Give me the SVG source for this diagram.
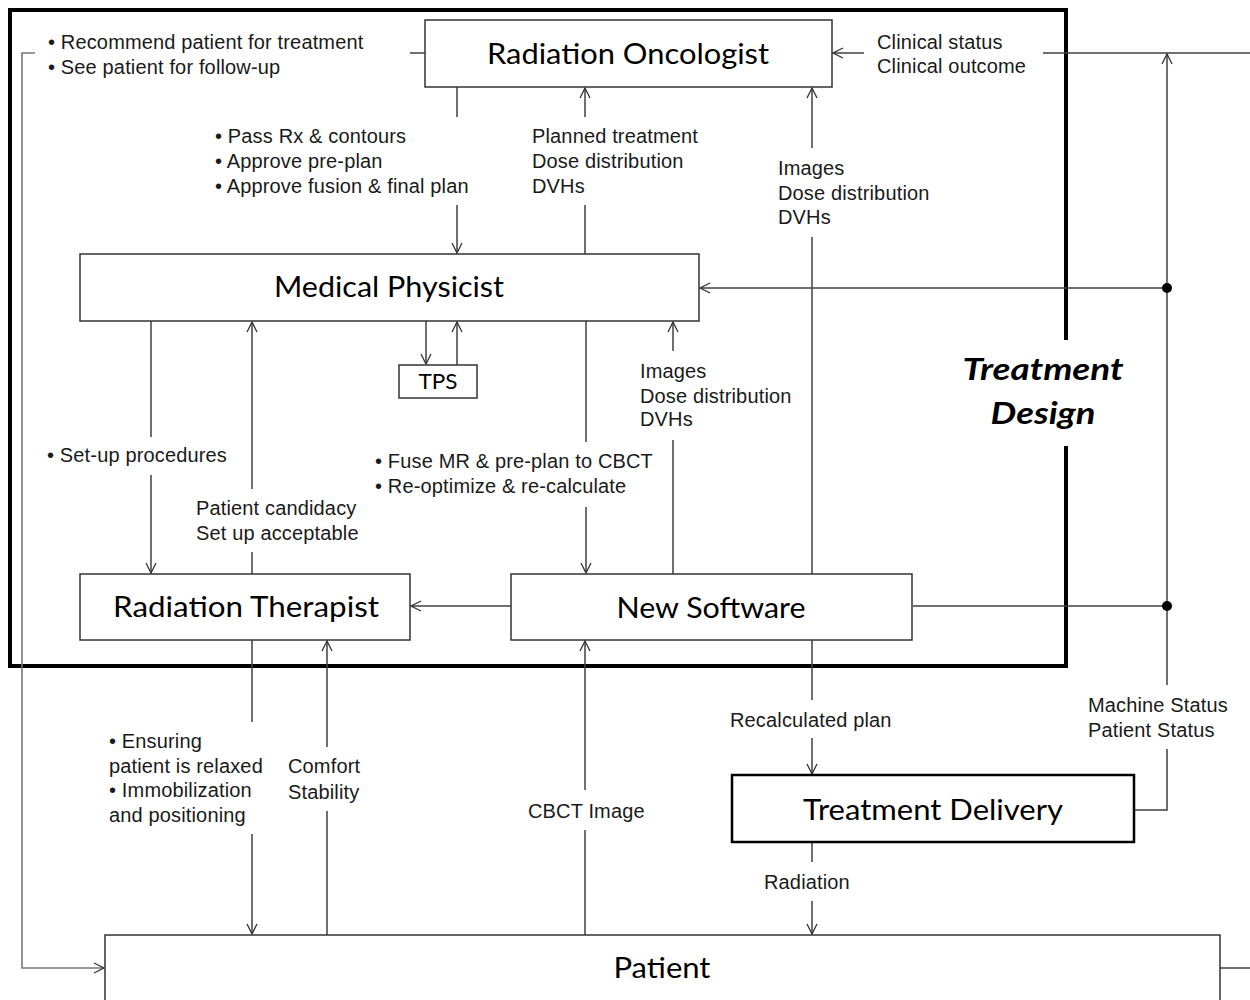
<svg xmlns="http://www.w3.org/2000/svg" width="1250" height="1000" viewBox="0 0 1250 1000">
<defs>
<marker id="arr" viewBox="0 0 12 12" refX="11" refY="6" markerWidth="12" markerHeight="12" orient="auto" markerUnits="userSpaceOnUse">
<path d="M1,1 L11,6 L1,11" fill="none" stroke="#333" stroke-width="1.3"/>
</marker>
<style>
.box{fill:#fff;stroke:#333;stroke-width:1.5}
.title{font-family:Lato,"Open Sans",sans-serif;font-size:28px;fill:#000;text-anchor:middle}
.lbl{font-family:"Liberation Sans",Arial,sans-serif;font-size:20px;letter-spacing:0.15px;fill:#1a1a1a}
.ln{fill:none;stroke:#404040;stroke-width:1.5}
.ar{marker-end:url(#arr)}
</style>
</defs>
<rect width="1250" height="1000" fill="#fff"/>

<g id="frame">
<rect x="10" y="10" width="1056" height="656" fill="none" stroke="#000" stroke-width="4"/>
</g>

<g id="connectors">
<line class="ln" x1="410" y1="53" x2="425" y2="53"/>
<path d="M35,53 H22 V968 H104" fill="none" stroke="#777" stroke-width="1.6" marker-end="url(#arr)"/>
<line class="ln ar" x1="864" y1="53" x2="833" y2="53"/>
<line class="ln" x1="1043" y1="53" x2="1250" y2="53"/>
<line class="ln" x1="1220" y1="968" x2="1250" y2="968"/>
<line class="ln ar" x1="1167" y1="685" x2="1167" y2="54"/>
<polyline class="ln" points="1134,810 1167,810 1167,749"/>
<line class="ln ar" x1="1167" y1="288" x2="700" y2="288"/>
<line class="ln" x1="913" y1="606" x2="1167" y2="606"/>
<circle cx="1167" cy="288" r="5" fill="#000"/>
<circle cx="1167" cy="606" r="5" fill="#000"/>
<line class="ln" x1="457" y1="87" x2="457" y2="117"/>
<line class="ln ar" x1="457" y1="205" x2="457" y2="253"/>
<line class="ln" x1="585" y1="254" x2="585" y2="205"/>
<line class="ln ar" x1="585" y1="117" x2="585" y2="88"/>
<line class="ln" x1="812" y1="574" x2="812" y2="237"/>
<line class="ln ar" x1="812" y1="148" x2="812" y2="88"/>
<line class="ln ar" x1="426" y1="321" x2="426" y2="364"/>
<line class="ln ar" x1="457" y1="365" x2="457" y2="322"/>
<line class="ln" x1="151" y1="321" x2="151" y2="437"/>
<line class="ln ar" x1="151" y1="475" x2="151" y2="573"/>
<line class="ln" x1="252" y1="574" x2="252" y2="552"/>
<line class="ln ar" x1="252" y1="489" x2="252" y2="322"/>
<line class="ln" x1="586" y1="321" x2="586" y2="442"/>
<line class="ln ar" x1="586" y1="507" x2="586" y2="573"/>
<line class="ln" x1="673" y1="574" x2="673" y2="440"/>
<line class="ln ar" x1="673" y1="351" x2="673" y2="322"/>
<line class="ln ar" x1="511" y1="606" x2="411" y2="606"/>
<line class="ln" x1="252" y1="640" x2="252" y2="722"/>
<line class="ln ar" x1="252" y1="834" x2="252" y2="934"/>
<line class="ln" x1="327" y1="935" x2="327" y2="811"/>
<line class="ln ar" x1="327" y1="747" x2="327" y2="641"/>
<line class="ln" x1="585" y1="935" x2="585" y2="830"/>
<line class="ln ar" x1="585" y1="790" x2="585" y2="641"/>
<line class="ln" x1="812" y1="640" x2="812" y2="700"/>
<line class="ln ar" x1="812" y1="738" x2="812" y2="774"/>
<line class="ln" x1="812" y1="842" x2="812" y2="862"/>
<line class="ln ar" x1="812" y1="901" x2="812" y2="934"/>
</g>

<g id="labels" class="lbl">
<text x="48" y="49">• Recommend patient for treatment</text>
<text x="48" y="74">• See patient for follow-up</text>
<text x="877" y="49">Clinical status</text>
<text x="877" y="73">Clinical outcome</text>
<text x="215" y="143">• Pass Rx &amp; contours</text>
<text x="215" y="168">• Approve pre-plan</text>
<text x="215" y="193">• Approve fusion &amp; final plan</text>
<text x="532" y="143">Planned treatment</text>
<text x="532" y="168">Dose distribution</text>
<text x="532" y="193">DVHs</text>
<text x="778" y="175">Images</text>
<text x="778" y="200">Dose distribution</text>
<text x="778" y="224">DVHs</text>
<text x="640" y="378">Images</text>
<text x="640" y="403">Dose distribution</text>
<text x="640" y="426">DVHs</text>
<text x="47" y="462">• Set-up procedures</text>
<text x="196" y="515">Patient candidacy</text>
<text x="196" y="540">Set up acceptable</text>
<text x="375" y="468">• Fuse MR &amp; pre-plan to CBCT</text>
<text x="375" y="493">• Re-optimize &amp; re-calculate</text>
<text x="109" y="748">• Ensuring</text>
<text x="109" y="773">patient is relaxed</text>
<text x="109" y="797">• Immobilization</text>
<text x="109" y="822">and positioning</text>
<text x="288" y="773">Comfort</text>
<text x="288" y="799">Stability</text>
<text x="730" y="727">Recalculated plan</text>
<text x="528" y="818">CBCT Image</text>
<text x="764" y="889">Radiation</text>
<text x="1088" y="712">Machine Status</text>
<text x="1088" y="737">Patient Status</text>
</g>

<g id="treatment-design">
<rect x="958" y="340" width="172" height="106" fill="#fff"/>
<text x="1043" y="380" font-family="Lato,'Open Sans',sans-serif" font-size="31" font-weight="bold" font-style="italic" text-anchor="middle" textLength="161" lengthAdjust="spacingAndGlyphs">Treatment</text>
<text x="1043" y="424" font-family="Lato,'Open Sans',sans-serif" font-size="31" font-weight="bold" font-style="italic" text-anchor="middle" textLength="105" lengthAdjust="spacingAndGlyphs">Design</text>
</g>

<g id="radiation-oncologist">
<rect class="box" x="425" y="20" width="407" height="67"/>
<text class="title" x="628" y="64" textLength="282" lengthAdjust="spacingAndGlyphs">Radiation Oncologist</text>
</g>
<g id="medical-physicist">
<rect class="box" x="80" y="254" width="619" height="67"/>
<text class="title" x="389" y="297" textLength="230" lengthAdjust="spacingAndGlyphs">Medical Physicist</text>
</g>
<g id="tps">
<rect class="box" x="399" y="365" width="78" height="33"/>
<text class="title" x="438" y="389" style="font-size:22px" textLength="39" lengthAdjust="spacingAndGlyphs">TPS</text>
</g>
<g id="radiation-therapist">
<rect class="box" x="80" y="574" width="330" height="66"/>
<text class="title" x="246" y="617" textLength="266" lengthAdjust="spacingAndGlyphs">Radiation Therapist</text>
</g>
<g id="new-software">
<rect class="box" x="511" y="574" width="401" height="66"/>
<text class="title" x="711" y="618" textLength="189" lengthAdjust="spacingAndGlyphs">New Software</text>
</g>
<g id="treatment-delivery">
<rect x="732" y="775" width="402" height="67" fill="#fff" stroke="#000" stroke-width="2.5"/>
<text class="title" x="933" y="820" textLength="260" lengthAdjust="spacingAndGlyphs">Treatment Delivery</text>
</g>
<g id="patient">
<rect class="box" x="105" y="935" width="1115" height="100"/>
<text class="title" x="662" y="978" textLength="97" lengthAdjust="spacingAndGlyphs">Patient</text>
</g>
</svg>
